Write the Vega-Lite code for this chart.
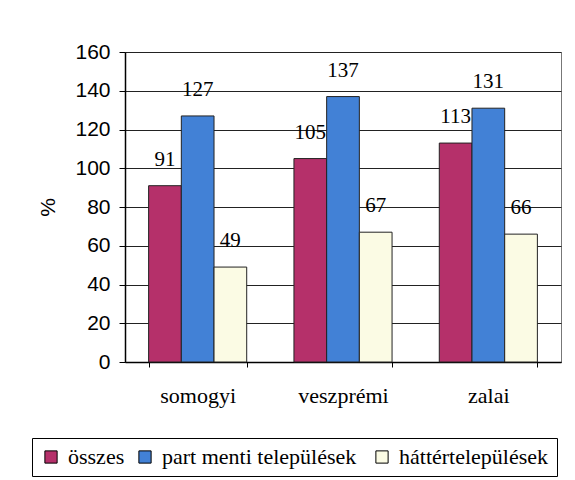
{
  "$schema": "https://vega.github.io/schema/vega-lite/v6.json",
  "width": 436,
  "height": 310,
  "autosize": {"type": "none"},
  "padding": {"left": 125, "top": 52, "right": 14, "bottom": 118},
  "background": "white",
  "config": {
    "view": {"stroke": "#777777", "strokeWidth": 1},
    "legend": {"labelFont": "Liberation Serif", "labelFontSize": 22}
  },
  "data": {
    "values": [
      {"region": "somogyi", "series": "összes", "value": 91},
      {"region": "somogyi", "series": "part menti  települések", "value": 127},
      {"region": "somogyi", "series": "háttértelepülések", "value": 49},
      {"region": "veszprémi", "series": "összes", "value": 105},
      {"region": "veszprémi", "series": "part menti  települések", "value": 137},
      {"region": "veszprémi", "series": "háttértelepülések", "value": 67},
      {"region": "zalai", "series": "összes", "value": 113},
      {"region": "zalai", "series": "part menti  települések", "value": 131},
      {"region": "zalai", "series": "háttértelepülések", "value": 66}
    ]
  },
  "encoding": {
    "x": {
      "field": "region",
      "type": "nominal",
      "sort": null,
      "scale": {"paddingInner": 0.325, "paddingOuter": 0.1625},
      "axis": {
        "title": null,
        "labelAngle": 0,
        "labelFont": "Liberation Serif",
        "labelFontSize": 22,
        "labelColor": "black",
        "labelPadding": 18,
        "tickBand": "extent",
        "tickSize": 5,
        "tickColor": "black",
        "domainColor": "black",
        "domainWidth": 1.5
      }
    },
    "xOffset": {
      "field": "series",
      "type": "nominal",
      "sort": ["összes", "part menti  települések", "háttértelepülések"]
    },
    "y": {
      "field": "value",
      "type": "quantitative",
      "scale": {"domain": [0, 160], "nice": false},
      "axis": {
        "title": "%",
        "titleFont": "Liberation Sans",
        "titleFontSize": 21,
        "titleFontWeight": "normal",
        "titleColor": "black",
        "titlePadding": 16,
        "values": [0, 20, 40, 60, 80, 100, 120, 140, 160],
        "labelFont": "Liberation Sans",
        "labelFontSize": 21,
        "labelColor": "black",
        "labelPadding": 9,
        "tickSize": 6,
        "tickColor": "black",
        "domainColor": "black",
        "domainWidth": 1.5,
        "grid": true,
        "gridColor": "#222222",
        "gridWidth": 1
      }
    }
  },
  "layer": [
    {
      "mark": {"type": "bar", "stroke": "#222222", "strokeWidth": 1},
      "encoding": {
        "color": {
          "field": "series",
          "type": "nominal",
          "sort": ["összes", "part menti  települések", "háttértelepülések"],
          "scale": {
            "domain": ["összes", "part menti  települések", "háttértelepülések"],
            "range": ["#b5306a", "#4281d6", "#fbfbe4"]
          },
          "legend": {
            "title": null,
            "orient": "none",
            "legendX": -93,
            "legendY": 386,
            "direction": "horizontal",
            "strokeColor": "black",
            "fillColor": "white",
            "padding": 8,
            "symbolType": "square",
            "symbolSize": 150,
            "symbolStrokeColor": "black",
            "symbolStrokeWidth": 1,
            "symbolOpacity": 1,
            "labelFont": "Liberation Serif",
            "labelFontSize": 22,
            "labelColor": "black",
            "labelOffset": 6,
            "columnPadding": 9,
            "labelLimit": 400
          }
        }
      }
    },
    {
      "mark": {
        "type": "text",
        "font": "Liberation Serif",
        "fontSize": 21,
        "color": "black",
        "baseline": "alphabetic",
        "dy": -20
      },
      "encoding": {
        "text": {"field": "value", "type": "quantitative"}
      }
    }
  ]
}
